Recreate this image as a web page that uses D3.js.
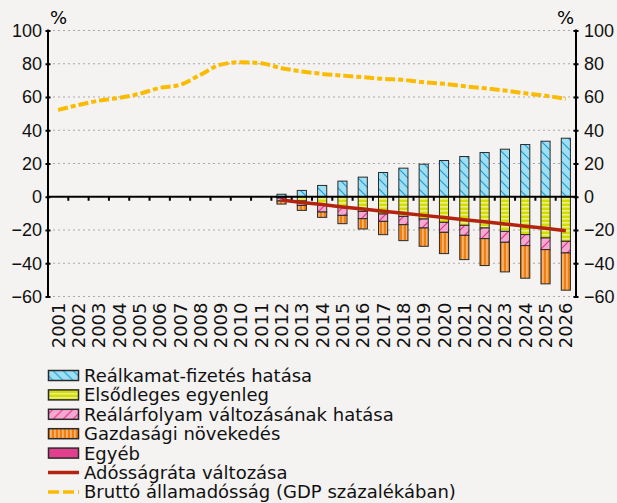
<!DOCTYPE html>
<html>
<head>
<meta charset="utf-8">
<script src="https://cdn.jsdelivr.net/npm/d3@7"></script>
<style>
  body { margin: 0; background: #f4f3f1; }
  svg { font-family: 'DejaVu Sans', sans-serif; }
</style>
</head>
<body>
<div class="chart"></div>
<script>
// years on the x axis
const years = d3.range(2001, 2027).map(String);

// bar components (percentage points), projection years only
const barYears = d3.range(2012, 2027).map(String);
const realkamat = [1.5, 3.8, 6.8, 9.4, 11.8, 14.6, 17.2, 19.6, 21.8, 24.2, 26.6, 28.6, 31.4, 33.4, 35.2];
const elsodleges = [-0.8, -2.6, -4.8, -6.2, -8.8, -10.4, -11.8, -13.4, -15.4, -17.2, -18.8, -20.8, -22.8, -24.8, -26.8];
const realarfolyam = [-1.8, -2.6, -4.4, -5, -4.4, -4.4, -5, -5.4, -6, -6, -6.4, -6.6, -6.6, -7, -7];
const gazdasagi = [-1.8, -3, -3.2, -5, -6.2, -8, -9.6, -11, -12.8, -14.6, -16.2, -17.8, -19.6, -20.6, -22.4];
const egyeb = [0, 0, 0, 0, 0, 0, 0, 0, 0, 0, 0, 0, 0, 0, 0];

// change of the debt ratio
const adossagrata = [-2, -3.4, -4.7, -6.1, -7.4, -8.7, -9.9, -11.2, -12.5, -13.8, -15.1, -16.4, -17.7, -19, -20.4];

// gross government debt, % of GDP
const brutto = [52.2, 55.2, 57.8, 59.5, 61.9, 65.5, 67.3, 73.3, 79.5, 80.9, 80.3, 77.3, 75.4, 73.9, 72.9,
  71.9, 70.9, 70.3, 68.9, 67.9, 66.5, 65.2, 63.9, 62.2, 60.8, 58.9];

const yTicks = [-60, -40, -20, 0, 20, 40, 60, 80, 100];

const keys = ['realkamat', 'elsodleges', 'realarfolyam', 'gazdasagi', 'egyeb'];
const names = {
  realkamat: 'Reálkamat-fizetés hatása',
  elsodleges: 'Elsődleges egyenleg',
  realarfolyam: 'Reálárfolyam változásának hatása',
  gazdasagi: 'Gazdasági növekedés',
  egyeb: 'Egyéb',
};

const rows = barYears.map((yr, i) => ({
  year: yr,
  realkamat: realkamat[i],
  elsodleges: elsodleges[i],
  realarfolyam: realarfolyam[i],
  gazdasagi: gazdasagi[i],
  egyeb: egyeb[i],
}));

const width = 617, height = 503;
const plotL = 48, plotR = 576, plotT = 30.5, plotB = 296.5;

const svg = d3.select('.chart').append('svg')
  .attr('width', width)
  .attr('height', height);

svg.append('rect').attr('width', width).attr('height', height).attr('fill', '#f4f3f1');

// fill patterns
const defs = svg.append('defs');
function pat(id, w, h) {
  return defs.append('pattern').attr('id', id)
    .attr('patternUnits', 'userSpaceOnUse')
    .attr('width', w).attr('height', h);
}
let p = pat('p-realkamat', 10, 10);
p.append('rect').attr('width', 10).attr('height', 10).attr('fill', '#9fdff4');
p.append('path').attr('d', 'M-1,-1L11,11M-1,9L1,11M9,-1L11,1').attr('stroke', '#1b9ed6').attr('stroke-width', 1.2);
p = pat('p-elsodleges', 4, 4);
p.append('rect').attr('width', 4).attr('height', 4).attr('fill', '#d2dc00');
p.append('rect').attr('y', 2.2).attr('width', 4).attr('height', 1.3).attr('fill', '#f1f4a4');
p = pat('p-realarfolyam', 10, 10);
p.append('rect').attr('width', 10).attr('height', 10).attr('fill', '#f6a9d0');
p.append('path').attr('d', 'M-1,11L11,-1M-1,1L1,-1M9,11L11,9').attr('stroke', '#e6318c').attr('stroke-width', 1.2);
p = pat('p-gazdasagi', 4, 4);
p.append('rect').attr('width', 4).attr('height', 4).attr('fill', '#f07f12');
p.append('rect').attr('x', 2.4).attr('width', 1.1).attr('height', 4).attr('fill', '#fcd3a6');
p = pat('p-egyeb', 4, 4);
p.append('rect').attr('width', 4).attr('height', 4).attr('fill', '#e23f8e');

const x = d3.scaleBand().domain(years).range([plotL, plotR]);
const y = d3.scaleLinear().domain([-60, 100]).range([plotB, plotT]);
const barW = x.bandwidth() * 0.45;

// dotted grid
svg.append('g').selectAll('line')
  .data(yTicks.filter(d => d !== 0))
  .enter().append('line')
  .attr('x1', plotL).attr('x2', plotR)
  .attr('y1', d => y(d)).attr('y2', d => y(d))
  .attr('stroke', '#a9a9a9').attr('stroke-width', 1.2)
  .attr('stroke-dasharray', '2,3');

// stacked bars
const series = d3.stack().keys(keys).offset(d3.stackOffsetDiverging)(rows);
svg.append('g').selectAll('g')
  .data(series)
  .enter().append('g')
  .attr('fill', d => `url(#p-${d.key})`)
  .selectAll('rect')
  .data(d => d.filter(v => v[1] !== v[0]))
  .enter().append('rect')
  .attr('x', d => x(d.data.year) + (x.bandwidth() - barW) / 2)
  .attr('width', barW)
  .attr('y', d => y(Math.max(d[0], d[1])))
  .attr('height', d => Math.abs(y(d[0]) - y(d[1])))
  .attr('stroke', '#2a2a2a').attr('stroke-width', 1);

// zero line with small ticks between categories
svg.append('line')
  .attr('x1', plotL).attr('x2', plotR)
  .attr('y1', y(0)).attr('y2', y(0))
  .attr('stroke', '#000').attr('stroke-width', 2);
svg.append('g').selectAll('line')
  .data(years.slice(1))
  .enter().append('line')
  .attr('x1', d => x(d)).attr('x2', d => x(d))
  .attr('y1', y(0)).attr('y2', y(0) + 4)
  .attr('stroke', '#000').attr('stroke-width', 2);

// debt ratio change
const xc = d => x(d) + x.bandwidth() / 2;
svg.append('path')
  .datum(adossagrata)
  .attr('fill', 'none')
  .attr('stroke', '#b3230f').attr('stroke-width', 3.5)
  .attr('d', d3.line().x((d, i) => xc(barYears[i])).y(d => y(d)));

// gross debt
svg.append('path')
  .datum(brutto)
  .attr('fill', 'none')
  .attr('stroke', '#fbbb00').attr('stroke-width', 4)
  .attr('stroke-dasharray', '10,3,5,3')
  .attr('d', d3.line().curve(d3.curveMonotoneX).x((d, i) => xc(years[i])).y(d => y(d)));

// axes
const yLeft = d3.axisLeft(y).tickValues(yTicks).tickSize(3).tickPadding(3);
const yRight = d3.axisRight(y).tickValues(yTicks).tickSize(3).tickPadding(5);
[[yLeft, plotL], [yRight, plotR]].forEach(([ax, pos]) => {
  const g = svg.append('g').attr('transform', `translate(${pos},0)`).call(ax);
  g.select('.domain').remove();
  g.selectAll('.tick line').attr('stroke-width', 2).attr('x1', -2.5).attr('x2', 2.5);
  g.selectAll('.tick text').attr('font-size', 18).attr('fill', '#111');
  g.append('line').attr('y1', plotT - 1).attr('y2', plotB + 1)
    .attr('stroke', '#000').attr('stroke-width', 2);
});

svg.append('text').attr('x', plotL + 2).attr('y', 24).attr('font-size', 18).text('%');
svg.append('text').attr('x', plotR - 2).attr('y', 24).attr('font-size', 18)
  .attr('text-anchor', 'end').text('%');

// year labels
svg.append('g').selectAll('text')
  .data(years)
  .enter().append('text')
  .attr('transform', d => `translate(${xc(d) + 6.5},${plotB + 6}) rotate(-90)`)
  .attr('text-anchor', 'end')
  .attr('font-size', 18)
  .attr('fill', '#111')
  .text(d => d);

// legend
const legend = svg.append('g').attr('transform', 'translate(48,375.5)');
const items = keys.map(k => ({ type: 'box', key: k, label: names[k] }))
  .concat([
    { type: 'line', color: '#b3230f', dash: null, label: 'Adósságráta változása' },
    { type: 'line', color: '#fbbb00', dash: '11,4', label: 'Bruttó államadósság (GDP százalékában)' },
  ]);
const li = legend.selectAll('g').data(items).enter().append('g')
  .attr('transform', (d, i) => `translate(0,${i * 19.4})`);
li.filter(d => d.type === 'box').append('rect')
  .attr('x', 0.5).attr('y', -5).attr('width', 30).attr('height', 10)
  .attr('fill', d => `url(#p-${d.key})`)
  .attr('stroke', '#2a2a2a').attr('stroke-width', 1.5);
li.filter(d => d.type === 'line').append('line')
  .attr('x1', 0).attr('x2', 31).attr('y1', 0).attr('y2', 0)
  .attr('stroke', d => d.color).attr('stroke-width', 3.5)
  .attr('stroke-dasharray', d => d.dash);
li.append('text')
  .attr('x', 36).attr('y', 6.5)
  .attr('font-size', 18).attr('fill', '#111')
  .text(d => d.label);
</script>
</body>
</html>
